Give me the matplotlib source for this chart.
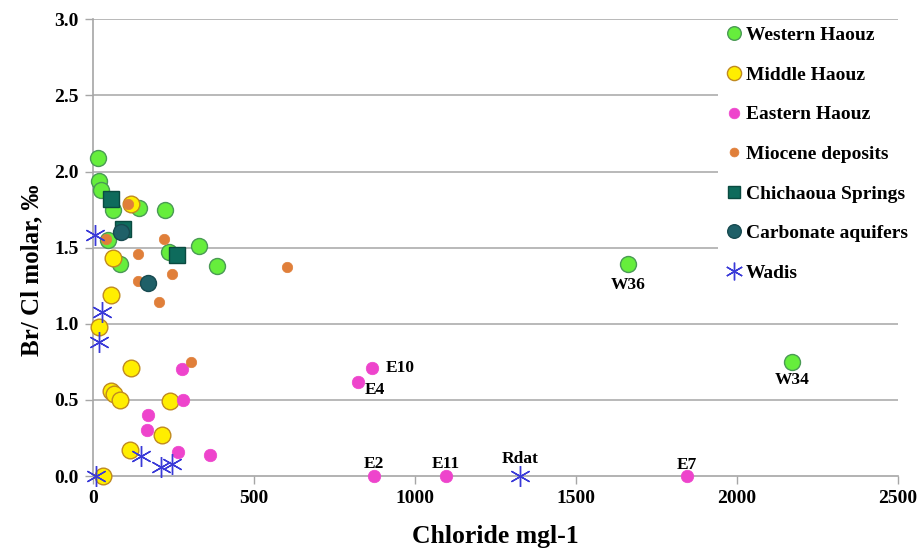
import matplotlib
matplotlib.use("Agg")
import matplotlib.pyplot as plt

# ---- data ----
western_x = [15, 19, 25, 63, 144, 224, 48, 330, 237, 387, 84, 1661, 2171]
western_y = [2.09, 1.94, 1.88, 1.75, 1.76, 1.75, 1.55, 1.51, 1.47, 1.38, 1.39, 1.39, 0.75]

middle_x = [119, 63, 56, 20, 118, 58, 66, 84, 239, 216, 115, 32]
middle_y = [1.79, 1.43, 1.19, 0.98, 0.71, 0.56, 0.54, 0.50, 0.49, 0.27, 0.17, 0.00]

eastern_x = [278, 280, 170, 167, 263, 363, 866, 823, 873, 1096, 1845]
eastern_y = [0.70, 0.50, 0.40, 0.30, 0.16, 0.14, 0.71, 0.62, 0.00, 0.00, 0.00]

miocene_x = [109, 42, 221, 139, 247, 141, 205, 603, 304]
miocene_y = [1.79, 1.56, 1.56, 1.46, 1.33, 1.28, 1.14, 1.37, 0.75]

chichaoua_x = [55, 94, 260]
chichaoua_y = [1.82, 1.62, 1.45]

carbonate_x = [89, 172]
carbonate_y = [1.60, 1.27]

wadis_x = [8, 27, 19, 10, 151, 211, 247, 1326]
wadis_y = [1.58, 1.08, 0.88, 0.00, 0.13, 0.06, 0.08, 0.00]

point_labels = [
    ("W36", 1661, 1.39), ("W34", 2171, 0.75),
    ("E10", 866, 0.71), ("E4", 823, 0.62),
    ("E2", 873, 0.00), ("E11", 1096, 0.00), ("E7", 1845, 0.00),
    ("Rdat", 1326, 0.00),
]

xticks = [0, 500, 1000, 1500, 2000, 2500]
yticks = [0.0, 0.5, 1.0, 1.5, 2.0, 2.5, 3.0]

# ---- figure ----
plt.rcParams['font.family'] = ['Liberation Serif', 'DejaVu Serif']
fig = plt.figure(figsize=(9.19, 5.51), dpi=100)
ax = fig.add_axes([0.101, 0.136, 0.876, 0.829])

ax.set_xlim(0, 2500)
ax.set_ylim(0, 3.0)
ax.set_yticks(yticks)
ax.set_yticklabels([f"{v:.1f}" for v in yticks])
ax.set_xticks(xticks)
ax.set_xticklabels([str(v) for v in xticks])

for y in yticks[1:]:
    ax.axhline(y, color="#b3b3b3", lw=1.3, zorder=0)

for s in ["top", "right"]:
    ax.spines[s].set_visible(False)
for s in ["left", "bottom"]:
    ax.spines[s].set_color("#a6a6a6")
    ax.spines[s].set_linewidth(1.2)
ax.tick_params(axis="both", colors="#a6a6a6", length=6, width=1.0, labelcolor="black",
               labelsize=14, pad=4)
for lab in ax.get_xticklabels() + ax.get_yticklabels():
    lab.set_fontweight("bold")

ax.plot(western_x, western_y, "o", ms=11.5, mfc="#66ee3c", mec="#4a9a55", mew=1.0,
        label="Western Haouz", zorder=3, clip_on=False)
ax.plot(middle_x, middle_y, "o", ms=12, mfc="#ffee00", mec="#c08a20", mew=1.0,
        label="Middle Haouz", zorder=3, clip_on=False)
ax.plot(eastern_x, eastern_y, "o", ms=9, mfc="#ee44cc", mec="#ee44cc", mew=0.5,
        label="Eastern Haouz", zorder=4, clip_on=False)
ax.plot(miocene_x, miocene_y, "o", ms=7.5, mfc="#e07f3a", mec="#e07f3a", mew=0.5,
        label="Miocene deposits", zorder=4, clip_on=False)
ax.plot(chichaoua_x, chichaoua_y, "s", ms=11, mfc="#0e6b5c", mec="#0a4a40", mew=1.0,
        label="Chichaoua Springs", zorder=5, clip_on=False)
ax.plot(carbonate_x, carbonate_y, "o", ms=11.5, mfc="#1f6068", mec="#174a50", mew=1.0,
        label="Carbonate aquifers", zorder=5, clip_on=False)
ax.plot(wadis_x, wadis_y, linestyle="none", marker=(6, 2, 0), ms=15, mec="#3a3ad8",
        mew=1.0, label="Wadis", zorder=6, clip_on=False)

offsets = {
    "W36": (0, -15, "center", "center"),
    "W34": (0, -13, "center", "center"),
    "E10": (10, 0, "left", "center"),
    "E4": (5, -6, "left", "center"),
    "E2": (0, 9, "center", "center"),
    "E11": (0, 9, "center", "center"),
    "E7": (0, 8, "center", "center"),
    "Rdat": (0, 12, "center", "center"),
}
for name, x, y in point_labels:
    dx, dy, ha, va = offsets[name]
    ax.annotate(name, (x, y), xytext=(dx, dy), textcoords="offset points",
                ha=ha, va=va, fontsize=12.5, fontweight="bold", zorder=7)

ax.set_xlabel("Chloride mgl-1", fontsize=18.5, fontweight="bold", labelpad=13)
ax.set_ylabel("Br/ Cl molar, \u2030", fontsize=18, fontweight="bold", labelpad=8)
ax.yaxis.set_label_coords(-0.062, 0.45)

leg = ax.legend(loc="upper right", bbox_to_anchor=(1.032, 1.018), frameon=True,
                prop={"weight": "bold", "size": 14},
                handletextpad=0.05, handlelength=1.1, labelspacing=1.13,
                borderpad=0.3, markerscale=0.85)
leg.get_frame().set_facecolor("white")
leg.get_frame().set_edgecolor("none")
leg.get_frame().set_alpha(1.0)
leg.set_zorder(10)

fig.savefig("out.png", dpi=100)
